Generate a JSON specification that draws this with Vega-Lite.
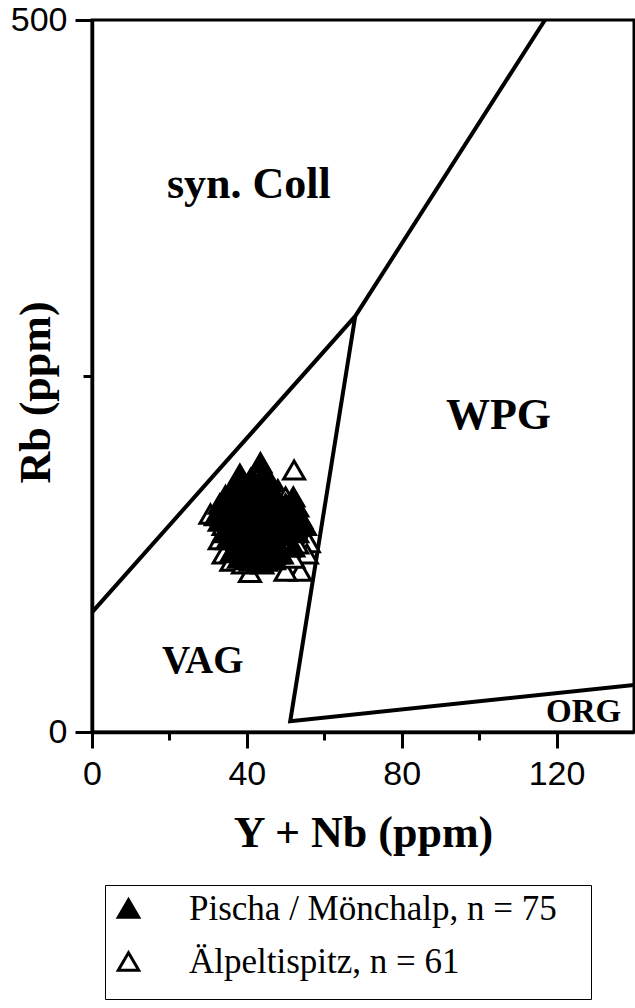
{
  "$schema": "https://vega.github.io/schema/vega-lite/v6.json",
  "width": 542,
  "height": 712,
  "autosize": {"type": "none"},
  "padding": {"left": 92, "top": 20, "right": 1, "bottom": 276},
  "background": "white",
  "config": {"view": {"stroke": "black", "strokeWidth": 3}},
  "datasets": {
    "bounds": [
      {"seg": "A", "ord": 1, "x": 0, "y": 84},
      {"seg": "A", "ord": 2, "x": 68, "y": 292},
      {"seg": "A", "ord": 3, "x": 117, "y": 500},
      {"seg": "B", "ord": 1, "x": 68, "y": 292},
      {"seg": "B", "ord": 2, "x": 51.2, "y": 7.5},
      {"seg": "B", "ord": 3, "x": 140, "y": 33}
    ],
    "bigfields": [
      {"label": "syn. Coll", "x": 40.5, "y": 384},
      {"label": "WPG", "x": 105, "y": 222}
    ],
    "vag": [
      {"label": "VAG", "x": 28.6, "y": 50}
    ],
    "org": [
      {"label": "ORG", "x": 127, "y": 14}
    ],
    "samples": [
      {"g": "Älpeltispitz, n = 61", "x": 52.2, "y": 184},
      {"g": "Älpeltispitz, n = 61", "x": 30.6, "y": 153},
      {"g": "Älpeltispitz, n = 61", "x": 33.5, "y": 152},
      {"g": "Älpeltispitz, n = 61", "x": 40.8, "y": 112},
      {"g": "Älpeltispitz, n = 61", "x": 53.8, "y": 113},
      {"g": "Älpeltispitz, n = 61", "x": 50, "y": 113},
      {"g": "Älpeltispitz, n = 61", "x": 54.5, "y": 140},
      {"g": "Älpeltispitz, n = 61", "x": 56, "y": 133},
      {"g": "Älpeltispitz, n = 61", "x": 55.5, "y": 125},
      {"g": "Älpeltispitz, n = 61", "x": 52, "y": 122},
      {"g": "Älpeltispitz, n = 61", "x": 34, "y": 125},
      {"g": "Älpeltispitz, n = 61", "x": 36, "y": 120},
      {"g": "Älpeltispitz, n = 61", "x": 38, "y": 140},
      {"g": "Älpeltispitz, n = 61", "x": 40, "y": 150},
      {"g": "Älpeltispitz, n = 61", "x": 42, "y": 160},
      {"g": "Älpeltispitz, n = 61", "x": 44, "y": 170},
      {"g": "Älpeltispitz, n = 61", "x": 46, "y": 150},
      {"g": "Älpeltispitz, n = 61", "x": 48, "y": 140},
      {"g": "Älpeltispitz, n = 61", "x": 50, "y": 150},
      {"g": "Älpeltispitz, n = 61", "x": 45, "y": 130},
      {"g": "Älpeltispitz, n = 61", "x": 43, "y": 128},
      {"g": "Älpeltispitz, n = 61", "x": 41, "y": 138},
      {"g": "Älpeltispitz, n = 61", "x": 39, "y": 145},
      {"g": "Älpeltispitz, n = 61", "x": 37, "y": 155},
      {"g": "Älpeltispitz, n = 61", "x": 35, "y": 160},
      {"g": "Älpeltispitz, n = 61", "x": 44, "y": 155},
      {"g": "Älpeltispitz, n = 61", "x": 47, "y": 165},
      {"g": "Älpeltispitz, n = 61", "x": 49, "y": 155},
      {"g": "Älpeltispitz, n = 61", "x": 51, "y": 148},
      {"g": "Älpeltispitz, n = 61", "x": 53, "y": 145},
      {"g": "Älpeltispitz, n = 61", "x": 52, "y": 155},
      {"g": "Älpeltispitz, n = 61", "x": 50, "y": 130},
      {"g": "Älpeltispitz, n = 61", "x": 48, "y": 125},
      {"g": "Älpeltispitz, n = 61", "x": 46, "y": 122},
      {"g": "Älpeltispitz, n = 61", "x": 44, "y": 118},
      {"g": "Älpeltispitz, n = 61", "x": 42, "y": 120},
      {"g": "Älpeltispitz, n = 61", "x": 40, "y": 125},
      {"g": "Älpeltispitz, n = 61", "x": 38, "y": 130},
      {"g": "Älpeltispitz, n = 61", "x": 36, "y": 138},
      {"g": "Älpeltispitz, n = 61", "x": 34, "y": 145},
      {"g": "Älpeltispitz, n = 61", "x": 33, "y": 135},
      {"g": "Älpeltispitz, n = 61", "x": 41, "y": 165},
      {"g": "Älpeltispitz, n = 61", "x": 43, "y": 175},
      {"g": "Älpeltispitz, n = 61", "x": 39, "y": 170},
      {"g": "Älpeltispitz, n = 61", "x": 45, "y": 145},
      {"g": "Älpeltispitz, n = 61", "x": 47, "y": 135},
      {"g": "Älpeltispitz, n = 61", "x": 49, "y": 133},
      {"g": "Älpeltispitz, n = 61", "x": 42, "y": 148},
      {"g": "Älpeltispitz, n = 61", "x": 40, "y": 135},
      {"g": "Älpeltispitz, n = 61", "x": 46, "y": 160},
      {"g": "Älpeltispitz, n = 61", "x": 44, "y": 140},
      {"g": "Älpeltispitz, n = 61", "x": 48, "y": 170},
      {"g": "Älpeltispitz, n = 61", "x": 50, "y": 165},
      {"g": "Älpeltispitz, n = 61", "x": 36, "y": 165},
      {"g": "Älpeltispitz, n = 61", "x": 38, "y": 160},
      {"g": "Älpeltispitz, n = 61", "x": 42, "y": 130},
      {"g": "Älpeltispitz, n = 61", "x": 45, "y": 125},
      {"g": "Älpeltispitz, n = 61", "x": 39, "y": 118},
      {"g": "Älpeltispitz, n = 61", "x": 51, "y": 138},
      {"g": "Älpeltispitz, n = 61", "x": 53, "y": 132},
      {"g": "Älpeltispitz, n = 61", "x": 47, "y": 150},
      {"g": "Pischa / Mönchalp, n = 75", "x": 43.5, "y": 189},
      {"g": "Pischa / Mönchalp, n = 75", "x": 38.2, "y": 181},
      {"g": "Pischa / Mönchalp, n = 75", "x": 34.5, "y": 166},
      {"g": "Pischa / Mönchalp, n = 75", "x": 44, "y": 180},
      {"g": "Pischa / Mönchalp, n = 75", "x": 42, "y": 175},
      {"g": "Pischa / Mönchalp, n = 75", "x": 40, "y": 172},
      {"g": "Pischa / Mönchalp, n = 75", "x": 46, "y": 176},
      {"g": "Pischa / Mönchalp, n = 75", "x": 36, "y": 170},
      {"g": "Pischa / Mönchalp, n = 75", "x": 33, "y": 160},
      {"g": "Pischa / Mönchalp, n = 75", "x": 35, "y": 155},
      {"g": "Pischa / Mönchalp, n = 75", "x": 37, "y": 160},
      {"g": "Pischa / Mönchalp, n = 75", "x": 39, "y": 165},
      {"g": "Pischa / Mönchalp, n = 75", "x": 41, "y": 168},
      {"g": "Pischa / Mönchalp, n = 75", "x": 45, "y": 170},
      {"g": "Pischa / Mönchalp, n = 75", "x": 47, "y": 168},
      {"g": "Pischa / Mönchalp, n = 75", "x": 48, "y": 162},
      {"g": "Pischa / Mönchalp, n = 75", "x": 50, "y": 160},
      {"g": "Pischa / Mönchalp, n = 75", "x": 52, "y": 165},
      {"g": "Pischa / Mönchalp, n = 75", "x": 53, "y": 158},
      {"g": "Pischa / Mönchalp, n = 75", "x": 51, "y": 153},
      {"g": "Pischa / Mönchalp, n = 75", "x": 54, "y": 150},
      {"g": "Pischa / Mönchalp, n = 75", "x": 55, "y": 145},
      {"g": "Pischa / Mönchalp, n = 75", "x": 53, "y": 140},
      {"g": "Pischa / Mönchalp, n = 75", "x": 49, "y": 150},
      {"g": "Pischa / Mönchalp, n = 75", "x": 46, "y": 155},
      {"g": "Pischa / Mönchalp, n = 75", "x": 44, "y": 160},
      {"g": "Pischa / Mönchalp, n = 75", "x": 42, "y": 158},
      {"g": "Pischa / Mönchalp, n = 75", "x": 40, "y": 155},
      {"g": "Pischa / Mönchalp, n = 75", "x": 38, "y": 150},
      {"g": "Pischa / Mönchalp, n = 75", "x": 36, "y": 145},
      {"g": "Pischa / Mönchalp, n = 75", "x": 34, "y": 140},
      {"g": "Pischa / Mönchalp, n = 75", "x": 33, "y": 148},
      {"g": "Pischa / Mönchalp, n = 75", "x": 32, "y": 152},
      {"g": "Pischa / Mönchalp, n = 75", "x": 35, "y": 135},
      {"g": "Pischa / Mönchalp, n = 75", "x": 37, "y": 130},
      {"g": "Pischa / Mönchalp, n = 75", "x": 39, "y": 128},
      {"g": "Pischa / Mönchalp, n = 75", "x": 41, "y": 132},
      {"g": "Pischa / Mönchalp, n = 75", "x": 43, "y": 135},
      {"g": "Pischa / Mönchalp, n = 75", "x": 45, "y": 140},
      {"g": "Pischa / Mönchalp, n = 75", "x": 47, "y": 145},
      {"g": "Pischa / Mönchalp, n = 75", "x": 44, "y": 148},
      {"g": "Pischa / Mönchalp, n = 75", "x": 42, "y": 145},
      {"g": "Pischa / Mönchalp, n = 75", "x": 40, "y": 142},
      {"g": "Pischa / Mönchalp, n = 75", "x": 38, "y": 140},
      {"g": "Pischa / Mönchalp, n = 75", "x": 36, "y": 126},
      {"g": "Pischa / Mönchalp, n = 75", "x": 38, "y": 122},
      {"g": "Pischa / Mönchalp, n = 75", "x": 40, "y": 121},
      {"g": "Pischa / Mönchalp, n = 75", "x": 42, "y": 125},
      {"g": "Pischa / Mönchalp, n = 75", "x": 44, "y": 122},
      {"g": "Pischa / Mönchalp, n = 75", "x": 46, "y": 128},
      {"g": "Pischa / Mönchalp, n = 75", "x": 48, "y": 132},
      {"g": "Pischa / Mönchalp, n = 75", "x": 50, "y": 138},
      {"g": "Pischa / Mönchalp, n = 75", "x": 52, "y": 130},
      {"g": "Pischa / Mönchalp, n = 75", "x": 49, "y": 125},
      {"g": "Pischa / Mönchalp, n = 75", "x": 47, "y": 121},
      {"g": "Pischa / Mönchalp, n = 75", "x": 45, "y": 120},
      {"g": "Pischa / Mönchalp, n = 75", "x": 43, "y": 119},
      {"g": "Pischa / Mönchalp, n = 75", "x": 41, "y": 120},
      {"g": "Pischa / Mönchalp, n = 75", "x": 39, "y": 135},
      {"g": "Pischa / Mönchalp, n = 75", "x": 37, "y": 145},
      {"g": "Pischa / Mönchalp, n = 75", "x": 41, "y": 150},
      {"g": "Pischa / Mönchalp, n = 75", "x": 43, "y": 152},
      {"g": "Pischa / Mönchalp, n = 75", "x": 45, "y": 163},
      {"g": "Pischa / Mönchalp, n = 75", "x": 47, "y": 158},
      {"g": "Pischa / Mönchalp, n = 75", "x": 49, "y": 140},
      {"g": "Pischa / Mönchalp, n = 75", "x": 51, "y": 145},
      {"g": "Pischa / Mönchalp, n = 75", "x": 35, "y": 150},
      {"g": "Pischa / Mönchalp, n = 75", "x": 39, "y": 158},
      {"g": "Pischa / Mönchalp, n = 75", "x": 43, "y": 168},
      {"g": "Pischa / Mönchalp, n = 75", "x": 41, "y": 178},
      {"g": "Pischa / Mönchalp, n = 75", "x": 37, "y": 173},
      {"g": "Pischa / Mönchalp, n = 75", "x": 48, "y": 150},
      {"g": "Pischa / Mönchalp, n = 75", "x": 46, "y": 135},
      {"g": "Pischa / Mönchalp, n = 75", "x": 42, "y": 138},
      {"g": "Pischa / Mönchalp, n = 75", "x": 40, "y": 163}
    ]
  },
  "layer": [
    {
      "data": {"name": "bounds"},
      "mark": {"type": "line", "color": "black", "strokeWidth": 4, "clip": true},
      "encoding": {
        "x": {
          "field": "x", "type": "quantitative",
          "scale": {"domain": [0, 140], "nice": false, "zero": false},
          "axis": {
            "values": [0, 20, 40, 60, 80, 100, 120],
            "labelExpr": "datum.value % 40 === 0 ? datum.label : ''",
            "tickSize": {"condition": {"test": "datum.value % 40 !== 0", "value": 8}, "value": 16},
            "tickWidth": 3, "tickColor": "black",
            "domainColor": "black", "domainWidth": 3.5,
            "grid": false,
            "labelFont": "Liberation Sans", "labelFontSize": 34, "labelColor": "black",
            "labelPadding": 9, "labelFlush": false, "labelOverlap": false,
            "title": "Y + Nb (ppm)",
            "titleFont": "Liberation Serif", "titleFontWeight": "bold", "titleFontSize": 44,
            "titleColor": "black", "titleBaseline": "alphabetic", "titleY": 114
          }
        },
        "y": {
          "field": "y", "type": "quantitative",
          "scale": {"domain": [0, 500], "nice": false, "zero": false},
          "axis": {
            "values": [0, 250, 500],
            "labelExpr": "datum.value === 250 ? '' : datum.label",
            "tickSize": {"condition": {"test": "datum.value === 250", "value": 9}, "value": 17},
            "tickWidth": 3, "tickColor": "black",
            "domainColor": "black", "domainWidth": 3.5,
            "grid": false,
            "labelFont": "Liberation Sans", "labelFontSize": 34, "labelColor": "black",
            "labelPadding": 8, "labelFlush": false, "labelOverlap": false,
            "title": "Rb (ppm)",
            "titleFont": "Liberation Serif", "titleFontWeight": "bold", "titleFontSize": 44,
            "titleColor": "black", "titleX": -34, "titleY": 372, "titleBaseline": "bottom", "titleAngle": -90
          }
        },
        "detail": {"field": "seg"},
        "order": {"field": "ord"}
      }
    },
    {
      "data": {"name": "samples"},
      "mark": {"type": "point", "filled": true, "strokeWidth": 3, "size": 440, "opacity": 1},
      "encoding": {
        "x": {"field": "x", "type": "quantitative"},
        "y": {"field": "y", "type": "quantitative"},
        "shape": {
          "field": "g", "type": "nominal",
          "scale": {"domain": ["Pischa / Mönchalp, n = 75", "Älpeltispitz, n = 61"], "range": ["triangle-up", "triangle-up"]},
          "legend": {
            "title": ["\u00a0", "\u00a0", "\u00a0", "\u00a0"], "titleOrient": "right", "titleFontSize": 20, "titleLineHeight": 32, "titlePadding": 28,
            "orient": "none", "legendX": 13, "legendY": 865,
            "strokeColor": "black", "padding": 6, "fillColor": "white",
            "labelFont": "Liberation Serif", "labelFontSize": 35, "labelColor": "black",
            "labelLimit": 700, "labelOffset": 43, "rowPadding": 17,
            "symbolSize": 420, "symbolStrokeWidth": 3
          }
        },
        "fill": {
          "field": "g", "type": "nominal",
          "scale": {"domain": ["Pischa / Mönchalp, n = 75", "Älpeltispitz, n = 61"], "range": ["black", "white"]},
          "legend": {
            "title": ["\u00a0", "\u00a0", "\u00a0", "\u00a0"], "titleOrient": "right", "titleFontSize": 20, "titleLineHeight": 32, "titlePadding": 28,
            "orient": "none", "legendX": 13, "legendY": 865,
            "strokeColor": "black", "padding": 6, "fillColor": "white",
            "labelFont": "Liberation Serif", "labelFontSize": 35, "labelColor": "black",
            "labelLimit": 700, "labelOffset": 43, "rowPadding": 17,
            "symbolSize": 420, "symbolStrokeWidth": 3
          }
        },
        "stroke": {
          "field": "g", "type": "nominal",
          "scale": {"domain": ["Pischa / Mönchalp, n = 75", "Älpeltispitz, n = 61"], "range": ["black", "black"]},
          "legend": {
            "title": ["\u00a0", "\u00a0", "\u00a0", "\u00a0"], "titleOrient": "right", "titleFontSize": 20, "titleLineHeight": 32, "titlePadding": 28,
            "orient": "none", "legendX": 13, "legendY": 865,
            "strokeColor": "black", "padding": 6, "fillColor": "white",
            "labelFont": "Liberation Serif", "labelFontSize": 35, "labelColor": "black",
            "labelLimit": 700, "labelOffset": 43, "rowPadding": 17,
            "symbolSize": 420, "symbolStrokeWidth": 3
          }
        }
      }
    },
    {
      "data": {"name": "bigfields"},
      "mark": {"type": "text", "font": "Liberation Serif", "fontWeight": "bold", "fontSize": 44, "color": "black"},
      "encoding": {
        "x": {"field": "x", "type": "quantitative"},
        "y": {"field": "y", "type": "quantitative"},
        "text": {"field": "label"}
      }
    },
    {
      "data": {"name": "vag"},
      "mark": {"type": "text", "font": "Liberation Serif", "fontWeight": "bold", "fontSize": 39, "color": "black"},
      "encoding": {
        "x": {"field": "x", "type": "quantitative"},
        "y": {"field": "y", "type": "quantitative"},
        "text": {"field": "label"}
      }
    },
    {
      "data": {"name": "org"},
      "mark": {"type": "text", "font": "Liberation Serif", "fontWeight": "bold", "fontSize": 33, "color": "black"},
      "encoding": {
        "x": {"field": "x", "type": "quantitative"},
        "y": {"field": "y", "type": "quantitative"},
        "text": {"field": "label"}
      }
    }
  ]
}
